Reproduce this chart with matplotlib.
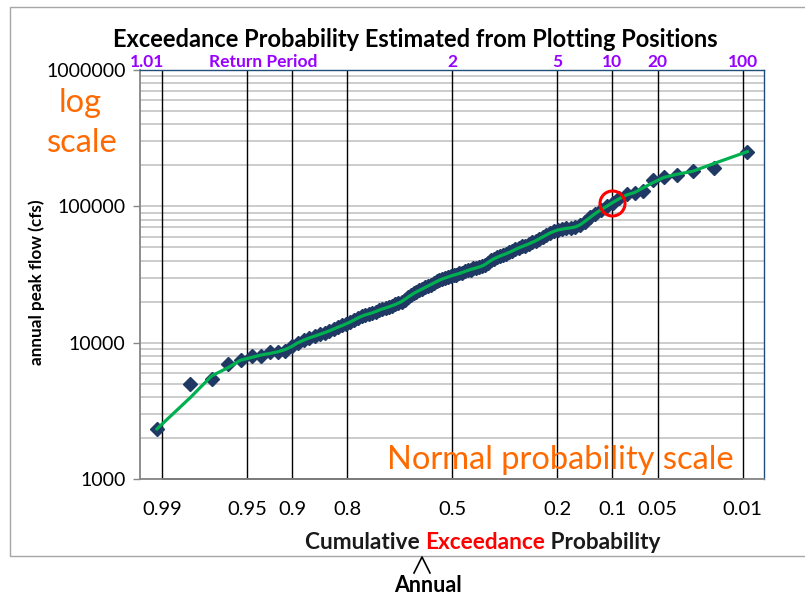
import matplotlib.pyplot as plt
import numpy as np
from statistics import NormalDist
from matplotlib.patches import Rectangle
from matplotlib.lines import Line2D
from matplotlib.ticker import NullFormatter

plt.rcParams['font.family'] = ['Lato', 'DejaVu Sans']

# annual peak flows (cfs), ranked from largest to smallest
peak_flow = [
    252000, 190000, 183000, 170000, 163000, 156000, 130000, 126000, 123000, 115000,
    105000, 101000, 94200, 87900, 83600, 76900, 72400, 70000, 69500, 68900,
    68200, 67100, 66100, 63800, 61700, 59700, 57700, 55700, 54300, 53000,
    51600, 50800, 49500, 48300, 47100, 45900, 44800, 44000, 43300, 42200,
    41100, 40500, 38500, 37200, 36600, 35900, 35300, 35000, 34400, 33900,
    33300, 32700, 32200, 31600, 31400, 30800, 30300, 29900, 29300, 28800,
    28100, 27400, 26700, 26100, 25400, 24800, 24200, 23600, 23000, 22200,
    21500, 20700, 20000, 19400, 19100, 18700, 18300, 18000, 17700, 17400,
    16900, 16500, 16300, 16000, 15700, 15200, 14700, 14200, 13700, 13400,
    13000, 12600, 12200, 11800, 11500, 11200, 10800, 10500, 10000, 9460,
    8690, 8550, 8470, 7980, 7940, 7460, 6950, 5380, 4980, 2330,
]

prob_ticks = [0.99, 0.95, 0.9, 0.8, 0.5, 0.2, 0.1, 0.05, 0.01]
prob_labels = ['0.99', '0.95', '0.9', '0.8', '0.5', '0.2', '0.1', '0.05', '0.01']
return_periods = [1.01, 2, 5, 10, 20, 100]
return_labels = ['1.01', '2', '5', '10', '20', '100']
flow_ticks = [1000, 10000, 100000, 1000000]

# the 10-year flood that gets circled
circled_prob = 0.1
circled_flow = 105000

nd = NormalDist()


def prob_to_z(p):
    # exceedance probability -> standard normal variate (high p on the left)
    return np.array([nd.inv_cdf(1 - q) for q in np.atleast_1d(p)])


n = len(peak_flow)
rank = np.arange(1, n + 1)
exceed = rank / (n + 1)          # Weibull plotting positions
zpos = prob_to_z(exceed)

# smoothed curve: 3-point moving average of log flow, end points kept
logq = np.log10(peak_flow)
smooth = logq.copy()
smooth[1:-1] = (logq[:-2] + logq[1:-1] + logq[2:]) / 3

W, H = 805, 597
fig = plt.figure(figsize=(8.05, 5.97), dpi=100)
ax = fig.add_axes([0.1733, 0.1977, 0.7761, 0.685])

ax.set_yscale('log')
ax.set_ylim(1000, 1e6)
ax.set_xlim(-2.505, 2.5)

ax.yaxis.grid(True, which='both', color='#BFBFBF', lw=1.1)
ax.set_axisbelow(True)
ax.set_yticks(flow_ticks, labels=[str(v) for v in flow_ticks])
ax.yaxis.set_minor_formatter(NullFormatter())
ax.tick_params(axis='y', which='major', length=5, width=1, color='#868686',
               labelsize=14, pad=5)
ax.tick_params(axis='y', which='minor', length=0)

zz = prob_to_z(prob_ticks)
ax.set_xticks(zz, labels=prob_labels)
ax.tick_params(axis='x', length=0, labelsize=14.5, pad=16)

# vertical probability lines
ax.vlines(zz, 1000, 1e6, color='black', lw=1, zorder=1.5)
ax.hlines(1000, zz[0], zz[-1], color='black', lw=1.2, zorder=1.5, clip_on=False)

for side in ['left', 'bottom']:
    ax.spines[side].set_color('#868686')
    ax.spines[side].set_linewidth(1.3)
for side in ['top', 'right']:
    ax.spines[side].set_color('#1F4E79')
    ax.spines[side].set_linewidth(1)

ax.plot(zpos, peak_flow, linestyle='none', marker='D', markersize=7,
        color='#1F3864', zorder=3)
ax.plot(zpos, 10 ** smooth, color='#00B050', lw=2.3, zorder=4)

ax.plot(prob_to_z(circled_prob), [circled_flow], marker='o', markersize=18,
        markerfacecolor='none', markeredgecolor='#FF0000', markeredgewidth=2.2,
        zorder=5)

# return period labels along the top
top = ax.get_xaxis_transform()
label_y = (1 - 67 / H - 0.1977) / 0.685
for t, lab in zip(return_periods, return_labels):
    zt = prob_to_z(1 / t)[0]
    ha = 'right' if t < 1.5 else 'center'
    ax.text(zt + (0.02 if t < 1.5 else 0), label_y, lab, transform=top, ha=ha,
            va='baseline', color='#9900FF', fontsize=12.5, fontweight='bold')
ax.text(0.198, label_y, 'Return Period', transform=ax.transAxes, ha='center',
        va='baseline', color='#9900FF', fontsize=12.5, fontweight='bold')

fig.text(0.5155, 1 - 47 / H, 'Exceedance Probability Estimated from Plotting Positions',
         ha='center', va='baseline', fontsize=17, fontweight='bold')
fig.text(0.046, 0.528, 'annual peak flow (cfs)', rotation=90, ha='center',
         va='center', fontsize=12.3, fontweight='bold')

# x-axis title with the key word in red
t1 = fig.text(0.379, 0.0905, 'Cumulative ', ha='left', va='center',
              fontsize=16.3, fontweight='bold', color='#1A1A1A')
t2 = fig.text(0, 0, 'Exceedance', ha='left', va='bottom', fontsize=16.3,
              fontweight='bold', color='#FF0000')
t3 = fig.text(0, 0, ' Probability', ha='left', va='bottom', fontsize=16.3,
              fontweight='bold', color='#1A1A1A')
fig.canvas.draw()
r = fig.canvas.get_renderer()
inv = fig.transFigure.inverted()
b1 = inv.transform_bbox(t1.get_window_extent(r))
t2.set_position((b1.x1, b1.y0))
b2 = inv.transform_bbox(t2.get_window_extent(r))
t3.set_position((b2.x1, b2.y0))

# caret and "Annual" below the frame
fig.add_artist(Line2D(np.array([414, 422, 430]) / W, 1 - np.array([573, 557, 573]) / H,
                      color='black', lw=1.2))
fig.text(428 / W, 1 - 592 / H, 'Annual', ha='center', va='baseline',
         fontsize=15.5, fontweight='bold')

# hand-written style notes
fig.text(80 / W, 1 - 103 / H, 'log', ha='center', va='center', fontsize=23.5,
         color='#FF6A00')
fig.text(82 / W, 1 - 143 / H, 'scale', ha='center', va='center', fontsize=23.5,
         color='#FF6A00')
fig.text(560 / W, 1 - 460 / H, 'Normal probability scale', ha='center',
         va='center', fontsize=23.5, color='#FF6A00')

# chart frame
fig.add_artist(Rectangle((10 / W, 1 - 556 / H), 1.0, 549 / H,
                         transform=fig.transFigure, fill=False,
                         edgecolor='#A6A6A6', lw=1))

fig.savefig('out.png', dpi=100)
